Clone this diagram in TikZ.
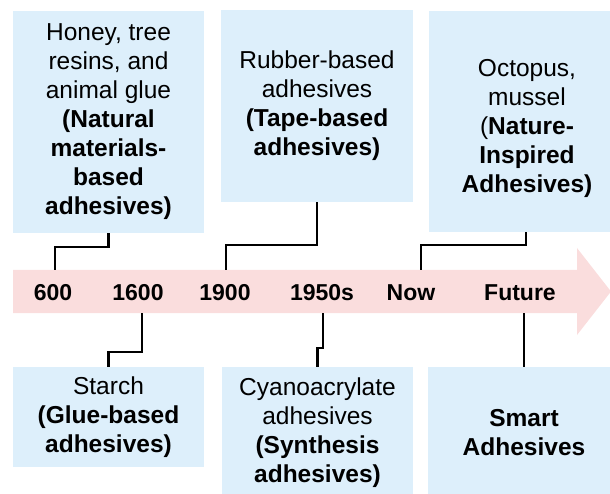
\documentclass[tikz,border=0pt]{standalone}
\usepackage{fontspec}
\setmainfont{Liberation Sans}
\definecolor{boxblue}{RGB}{221,239,251}
\definecolor{bandpink}{RGB}{250,221,221}
\tikzset{
  infobox/.style={fill=boxblue, draw=none, inner sep=0pt, align=center,
    font=\fontsize{24.5}{29}\selectfont},
  infotext/.style={inner sep=0pt, align=center, font=\fontsize{24.5}{29}\selectfont},
  yearlbl/.style={font=\fontsize{23}{27}\selectfont\bfseries, inner sep=0pt},
  conn/.style={draw=black, line width=2.6pt}
}
\begin{document}
\begin{tikzpicture}[x=1pt,y=-1pt]
\useasboundingbox (0,0) rectangle (610,494);
\clip (0,0) rectangle (610,494);
% timeline arrow
\fill[bandpink] (13,270) -- (577,270) -- (577,248) -- (611,291.5) -- (577,335) -- (577,313) -- (13,313) -- cycle;
% top boxes
\node[infobox, minimum width=191pt, minimum height=222pt] (b1) at (108.5,122)
  {Honey, tree\\resins, and\\animal glue\\\textbf{(Natural}\\\textbf{materials-}\\\textbf{based}\\\textbf{adhesives)}};
\node[infobox, minimum width=192pt, minimum height=192pt] (b2) at (317,106)
  {Rubber-based\\adhesives\\\textbf{(Tape-based}\\\textbf{adhesives)}};
\node[infobox, minimum width=196pt, minimum height=221pt] (b3) at (527,121.5) {};
\node[infotext] (b3t) at (527,128)
  {Octopus,\\mussel\\(\textbf{Nature-}\\\textbf{Inspired}\\\textbf{Adhesives)}};
% bottom boxes
\node[infobox, minimum width=191pt, minimum height=100pt] (b4) at (108.5,417)
  {Starch\\\textbf{(Glue-based}\\\textbf{adhesives)}};
\node[infobox, minimum width=191pt, minimum height=131pt] (b5) at (317.5,432.5)
  {Cyanoacrylate\\adhesives\\\textbf{(Synthesis}\\\textbf{adhesives)}};
\node[infobox, minimum width=192pt, minimum height=131pt] (b6) at (524,432.5)
  {\textbf{Smart}\\\textbf{Adhesives}};
% year labels
\node[yearlbl] (y600) at (53,293) {600};
\node[yearlbl] (y1600) at (138,293) {1600};
\node[yearlbl] (y1900) at (225,293) {1900};
\node[yearlbl] (y1950) at (322,293) {1950s};
\node[yearlbl] (ynow) at (411,293) {Now};
\node[yearlbl] (yfut) at (520,293) {Future};
% connector ends on the band
\coordinate (t600) at (55,270);
\coordinate (t1900) at (226,270);
\coordinate (tnow) at (421,270);
\coordinate (b1600) at (142,313);
\coordinate (b1950) at (323,313);
\coordinate (bfut) at (524,313);
% connectors
\draw[conn] (b1.south) -- ++(0,14) -| (t600);
\draw[conn] (b2.south) -- ++(0,43) -| (t1900);
\draw[conn] ([xshift=-1pt]b3.south) -- ++(0,13) -| (tnow);
\draw[conn] (b1600) -- ++(0,39) -| (b4.north);
\draw[conn] (b1950) -- ++(0,35) -| (b5.north);
\draw[conn] (bfut) -- (bfut |- b6.north);
\end{tikzpicture}
\end{document}
